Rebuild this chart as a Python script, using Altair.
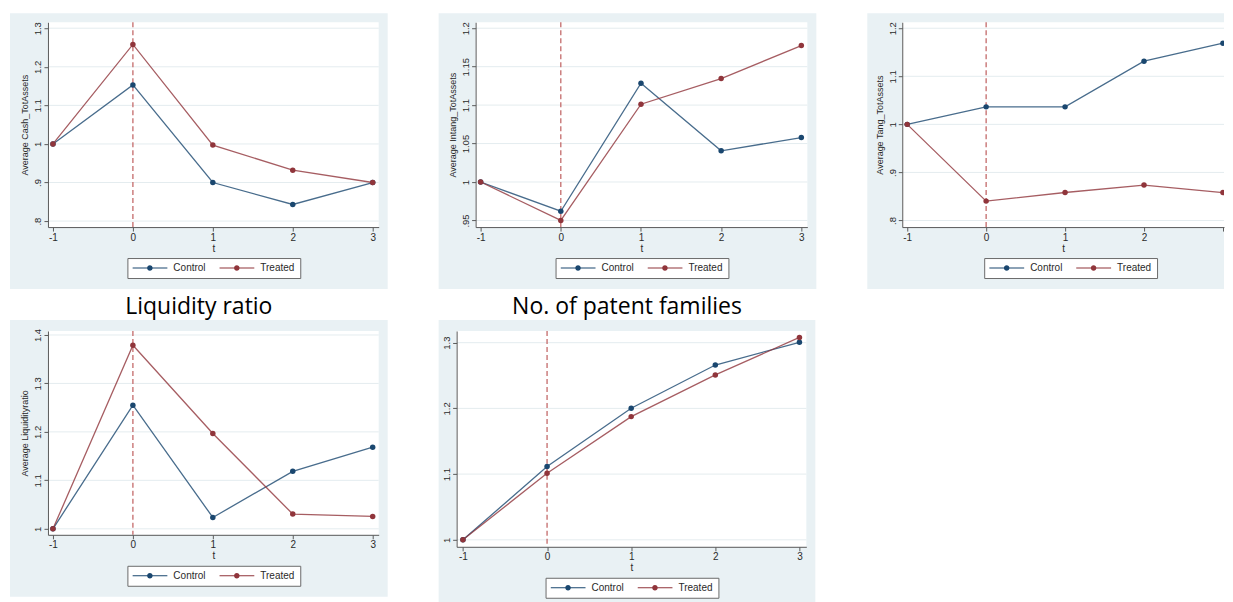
import altair as alt
import pandas as pd

# ---------------- data ----------------
t_values = [-1, 0, 1, 2, 3]
groups = ["Control", "Treated"]

cash_control = [1.0, 1.153, 0.900, 0.843, 0.900]
cash_treated = [1.0, 1.258, 0.997, 0.932, 0.900]

intang_control = [1.0, 0.962, 1.1285, 1.0406, 1.0578]
intang_treated = [1.0, 0.950, 1.1012, 1.1345, 1.1774]

tang_control = [1.0, 1.0364, 1.0364, 1.1314, 1.1688]
tang_treated = [1.0, 0.8403, 0.8582, 0.8736, 0.858]

liq_control = [1.0, 1.255, 1.0234, 1.1186, 1.1683]
liq_treated = [1.0, 1.3787, 1.1966, 1.0304, 1.0255]

pat_control = [1.0, 1.1115, 1.2003, 1.266, 1.3006]
pat_treated = [1.0, 1.1014, 1.1875, 1.2509, 1.308]

x_ticks = [-1, 0, 1, 2, 3]
cash_ticks = [0.8, 0.9, 1.0, 1.1, 1.2, 1.3]
intang_ticks = [0.95, 1.0, 1.05, 1.1, 1.15, 1.2]
tang_ticks = [0.8, 0.9, 1.0, 1.1, 1.2]
liq_ticks = [1.0, 1.1, 1.2, 1.3, 1.4]
pat_ticks = [1.0, 1.1, 1.2, 1.3]

# ---------------- style ----------------
BG = "#E9F1F4"
GRID = "#E4ECEF"
NAVY = "#1A476F"
MAROON = "#90353B"
AXIS = "#5A5A5A"
TXT = "#2A2A2A"
FONT = "Liberation Sans"
LEGEND_PATH = ("M-1,-0.03H1V0.03H-1Z"
               "M0.16,0A0.16,0.16,0,1,1,-0.16,0A0.16,0.16,0,1,1,0.16,0Z")

color_scale = alt.Scale(domain=groups, range=[NAVY, MAROON])


def stata_labels():
    return ("datum.value < 1 ? substring(format(datum.value, '.2~f'), 1) "
            ": format(datum.value, '.2~f')")


def panel(ctrl, trt, yticks, ydom, ytitle, width, height, xdom,
          left_pad, top_pad, right_pad=9, title=None, clip=False,
          xlabel_expr="'' + datum.value", legend_x=None):
    df = pd.DataFrame({
        "t": t_values * 2,
        "value": ctrl + trt,
        "group": ["Control"] * len(t_values) + ["Treated"] * len(t_values),
    })
    xs = alt.Scale(domain=xdom, nice=False, zero=False)
    ys = alt.Scale(domain=ydom, nice=False, zero=False)

    xaxis = alt.Axis(values=x_ticks, labelExpr=xlabel_expr, grid=False,
                     tickSize=4, tickColor=AXIS, domainColor=AXIS,
                     labelFont=FONT, labelFontSize=10, labelColor=TXT,
                     labelPadding=1, labelFlush=False, labelOverlap=False,
                     title="t", titleFont=FONT, titleFontSize=10,
                     titleFontWeight="normal", titleColor=TXT, titlePadding=1,
                     zindex=1)
    yaxis = alt.Axis(values=yticks, labelExpr=stata_labels(), grid=False,
                     tickSize=4, tickColor=AXIS, domainColor=AXIS,
                     labelFont=FONT, labelFontSize=9.5, labelColor=TXT,
                     labelAngle=270, labelAlign="center",
                     labelBaseline="bottom", labelPadding=1,
                     labelFlush=False, labelOverlap=False,
                     title=ytitle if ytitle else "",
                     titleFont=FONT, titleFontSize=9,
                     titleFontWeight="normal", titleColor=TXT, titlePadding=3,
                     zindex=1)

    one = alt.Data(values=[{"k": 1}])
    bg = alt.Chart(one).mark_rect(color=BG).encode(
        x=alt.value(-left_pad), x2=alt.value(width + right_pad),
        y=alt.value(-top_pad), y2=alt.value(height + 62))
    plot_bg = alt.Chart(one).mark_rect(color="white").encode(
        x=alt.value(0), x2=alt.value(width),
        y=alt.value(0), y2=alt.value(height))
    grid = alt.Chart(pd.DataFrame({"value": yticks})).mark_rule(
        color=GRID, strokeWidth=1).encode(
        y=alt.Y("value:Q", scale=ys, axis=yaxis),
        x=alt.value(0), x2=alt.value(width))
    vline = alt.Chart(pd.DataFrame({"t": [0]})).mark_rule(
        color="#C46A6A", strokeWidth=1.3, strokeDash=[5, 3]).encode(
        x=alt.X("t:Q", scale=xs, axis=xaxis),
        y=alt.value(0), y2=alt.value(height))
    lines = alt.Chart(df).mark_line(strokeWidth=1.3, opacity=0.8,
                                    clip=clip).encode(
        x=alt.X("t:Q", scale=xs, axis=xaxis),
        y=alt.Y("value:Q", scale=ys, axis=yaxis),
        stroke=alt.Stroke("group:N", scale=color_scale, legend=None),
        order=alt.Order("t:Q"))
    lx = legend_x if legend_x is not None else (width - 172) / 2
    legend = alt.Legend(orient="none", legendX=lx,
                        legendY=height + 31, direction="horizontal",
                        title=None, symbolType=LEGEND_PATH, symbolSize=1225,
                        symbolStrokeWidth=0, symbolOpacity=1, clipHeight=10,
                        labelFont=FONT, labelFontSize=10, labelColor=TXT,
                        labelOffset=6, columnPadding=13, padding=5,
                        strokeColor="#6A6A6A", fillColor="white")
    points = alt.Chart(df).mark_point(filled=True, size=30, opacity=1,
                                      clip=clip).encode(
        x=alt.X("t:Q", scale=xs, axis=xaxis),
        y=alt.Y("value:Q", scale=ys, axis=yaxis),
        color=alt.Color("group:N", scale=color_scale, legend=legend))
    ch = alt.layer(bg, plot_bg, grid, vline, lines, points).properties(
        width=width, height=height)
    if title:
        ch = ch.properties(title=alt.TitleParams(
            text=title, font="Open Sans", fontSize=23, fontWeight="normal",
            color="black", anchor="middle", frame="bounds", offset=1))
    return ch


XD = [-1.0625, 3.075]
p1 = panel(cash_control, cash_treated, cash_ticks, [0.7845, 1.3155],
           "Average Cash_TotAssets", 331, 205, XD, 38, 9)
p2 = panel(intang_control, intang_treated, intang_ticks, [0.9414, 1.2078],
           "Average Intang_TotAssets", 332, 205, XD, 37, 9)
# the third panel runs off the right edge of the page, as in the reference
p3 = panel(tang_control, tang_treated, tang_ticks, [0.7863, 1.2125],
           "Average Tang_TotAssets", 322, 205, [-1.0625, 3.0135], 35, 9,
           right_pad=0, clip=True,
           xlabel_expr="datum.value == 3 ? '' : '' + datum.value",
           legend_x=82)
p4 = panel(liq_control, liq_treated, liq_ticks, [0.9876, 1.4082],
           "Average Liquidityratio", 331, 204, XD, 38, 11,
           title="Liquidity ratio")
p5 = panel(pat_control, pat_treated, pat_ticks, [0.9894, 1.3178],
           None, 350, 216, [-1.075, 3.082], 18, 11,
           title="No. of patent families")

row1 = alt.hconcat(p1, p2, p3, spacing=51).resolve_scale(
    color="independent").resolve_legend(color="independent")
row2 = alt.hconcat(p4, p5, spacing=51).resolve_scale(
    color="independent").resolve_legend(color="independent")

chart = alt.vconcat(row1, row2, spacing=7).resolve_scale(
    color="independent").resolve_legend(color="independent").properties(
    padding={"left": 2, "top": 5, "right": 0, "bottom": 0},
    background="white",
).configure_view(strokeWidth=0)

chart.save("out.html", embed_options={"renderer": "svg", "actions": False})
